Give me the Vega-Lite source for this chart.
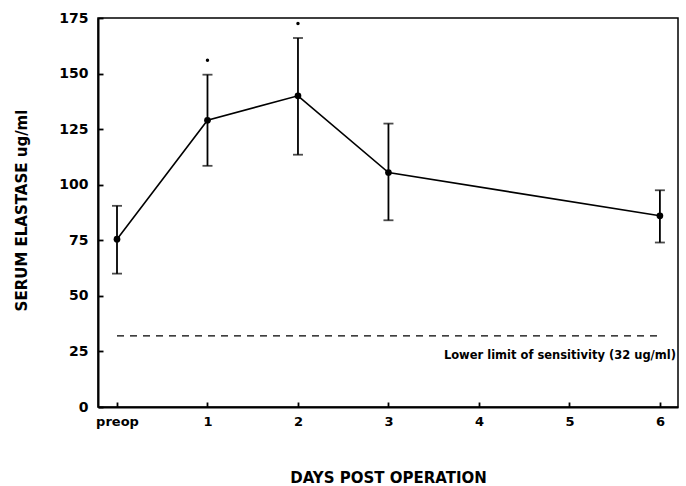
{
  "$schema": "https://vega.github.io/schema/vega-lite/v6.json",
  "width": 580,
  "height": 389,
  "autosize": {"type": "none"},
  "padding": {"left": 98, "top": 18, "right": 8, "bottom": 79},
  "background": "white",
  "config": {
    "view": {"stroke": "black", "strokeWidth": 1.5},
    "font": "DejaVu Sans",
    "axis": {
      "grid": false,
      "ticks": true,
      "domainColor": "black",
      "domainWidth": 2,
      "tickColor": "black",
      "tickWidth": 1.8,
      "labelColor": "black",
      "labelFont": "DejaVu Sans",
      "labelFontWeight": "bold",
      "titleFont": "DejaVu Sans",
      "titleFontWeight": "bold",
      "titleColor": "black"
    }
  },
  "datasets": {
    "means": [
      {"day": 0, "mean": 75.5, "lo": 60, "hi": 90.5},
      {"day": 1, "mean": 129, "lo": 108.5, "hi": 149.5},
      {"day": 2, "mean": 140, "lo": 113.5, "hi": 166},
      {"day": 3, "mean": 105.5, "lo": 84, "hi": 127.5},
      {"day": 6, "mean": 86, "lo": 74, "hi": 97.5}
    ],
    "stars": [
      {"day": 1, "y": 156},
      {"day": 2, "y": 172.5}
    ],
    "limit": [
      {"x1": 0, "x2": 6, "y": 32}
    ],
    "note": [
      {"x": 6.2, "y": 23, "text": "Lower limit of sensitivity (32 ug/ml)"}
    ]
  },
  "layer": [
    {
      "data": {"name": "limit"},
      "mark": {"type": "rule", "color": "black", "strokeWidth": 1.3, "strokeDash": [7, 6]},
      "encoding": {
        "x": {"field": "x1", "type": "quantitative"},
        "x2": {"field": "x2"},
        "y": {"field": "y", "type": "quantitative"}
      }
    },
    {
      "data": {"name": "note"},
      "mark": {"type": "text", "align": "right", "baseline": "middle", "fontSize": 11.5, "fontWeight": "bold", "font": "DejaVu Sans", "color": "black", "dx": -2},
      "encoding": {
        "x": {"field": "x", "type": "quantitative"},
        "y": {"field": "y", "type": "quantitative"},
        "text": {"field": "text"}
      }
    },
    {
      "data": {"name": "means"},
      "mark": {"type": "rule", "color": "black", "strokeWidth": 1.8},
      "encoding": {
        "x": {"field": "day", "type": "quantitative"},
        "y": {"field": "lo", "type": "quantitative"},
        "y2": {"field": "hi"}
      }
    },
    {
      "data": {"name": "means"},
      "mark": {"type": "tick", "orient": "horizontal", "color": "black", "size": 10, "thickness": 1.8},
      "encoding": {
        "x": {"field": "day", "type": "quantitative"},
        "y": {"field": "lo", "type": "quantitative"}
      }
    },
    {
      "data": {"name": "means"},
      "mark": {"type": "tick", "orient": "horizontal", "color": "black", "size": 10, "thickness": 1.8},
      "encoding": {
        "x": {"field": "day", "type": "quantitative"},
        "y": {"field": "hi", "type": "quantitative"}
      }
    },
    {
      "data": {"name": "means"},
      "mark": {"type": "line", "color": "black", "strokeWidth": 1.6, "point": {"filled": true, "color": "black", "size": 45}},
      "encoding": {
        "x": {
          "field": "day",
          "type": "quantitative",
          "scale": {"domain": [-0.21, 6.2], "nice": false, "zero": false},
          "axis": {
            "values": [0, 1, 2, 3, 4, 5, 6],
            "format": "d",
            "labelExpr": "datum.value == 0 ? 'preop' : datum.label",
            "tickSize": -5,
            "labelPadding": 13,
            "labelFontSize": 13,
            "title": "DAYS POST OPERATION",
            "titleFontSize": 15,
            "titleY": 70,
            "titleBaseline": "middle"
          }
        },
        "y": {
          "field": "mean",
          "type": "quantitative",
          "scale": {"domain": [0, 175], "nice": false},
          "axis": {
            "values": [0, 25, 50, 75, 100, 125, 150, 175],
            "tickSize": -5,
            "labelPadding": 15,
            "labelFontSize": 14,
            "title": "SERUM ELASTASE ug/ml",
            "titleFontSize": 15,
            "titleX": -77,
            "titleY": 192,
            "titleAnchor": "middle",
            "titleBaseline": "middle"
          }
        }
      }
    },
    {
      "data": {"name": "stars"},
      "mark": {"type": "point", "filled": true, "color": "black", "size": 12, "opacity": 1},
      "encoding": {
        "x": {"field": "day", "type": "quantitative"},
        "y": {"field": "y", "type": "quantitative"}
      }
    }
  ]
}
